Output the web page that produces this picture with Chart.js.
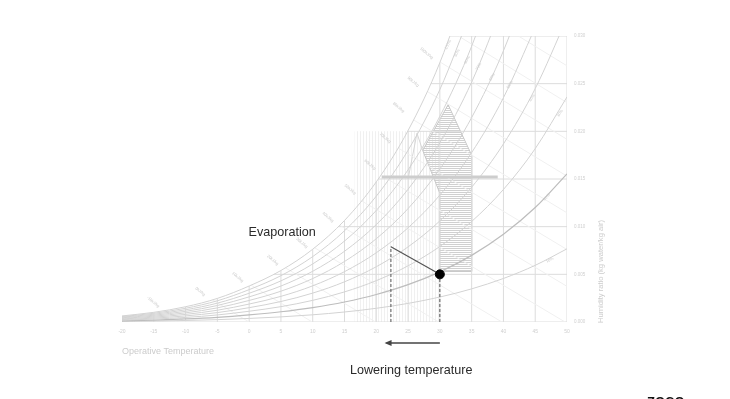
<!DOCTYPE html>
<html lang="en">
<head>
<meta charset="UTF-8">
<title>Psychrometric chart - evaporative cooling</title>
<script src="https://cdn.jsdelivr.net/npm/chart.js"></script>
<style>
  html, body { margin: 0; padding: 0; background: #fff; }
  #wrap { width: 730px; height: 399px; position: relative; }
</style>
</head>
<body>
<div id="wrap"><canvas id="psychro" width="730" height="399"></canvas></div>
<script>
// dry bulb temperatures (°C) where the RH curves were read
const temps = [-20, -15, -10, -5, 0, 5, 10, 15, 20, 25, 30, 35, 40, 45, 50];

// humidity ratio (kg water / kg air) along each relative humidity curve
const rh100 = [0.000636, 0.001016, 0.00160, 0.002475, 0.003775, 0.005403, 0.007632, 0.01065, 0.014699, 0.020082, 0.027209, 0.036583];
const rh90 = [0.000572, 0.000915, 0.00144, 0.002226, 0.003395, 0.004859, 0.00686, 0.009569, 0.013198, 0.018017, 0.024382, 0.032733];
const rh80 = [0.000509, 0.000813, 0.001279, 0.001978, 0.003016, 0.004315, 0.006091, 0.008491, 0.011704, 0.015963, 0.021578, 0.028928, 0.038509];
const rh70 = [0.000445, 0.000711, 0.001119, 0.00173, 0.002637, 0.003772, 0.005323, 0.007417, 0.010217, 0.013923, 0.0188, 0.025166, 0.033436];
const rh60 = [0.000381, 0.000609, 0.000959, 0.001482, 0.002259, 0.003231, 0.004557, 0.006347, 0.008737, 0.011896, 0.016045, 0.021446, 0.028443, 0.037461];
const rh50 = [0.000318, 0.000508, 0.000799, 0.001235, 0.001882, 0.00269, 0.003793, 0.00528, 0.007263, 0.009882, 0.013314, 0.01777, 0.023523, 0.030907];
const rh40 = [0.000254, 0.000406, 0.000639, 0.000987, 0.001504, 0.00215, 0.003031, 0.004217, 0.005797, 0.00788, 0.010605, 0.014135, 0.018677, 0.024482, 0.031885];
const rh30 = [0.000191, 0.000305, 0.000479, 0.00074, 0.001128, 0.001611, 0.00227, 0.003157, 0.004338, 0.005892, 0.00792, 0.010541, 0.013903, 0.018182, 0.023611];
const rh20 = [0.000127, 0.000203, 0.000319, 0.000493, 0.000751, 0.001073, 0.001512, 0.002101, 0.002885, 0.003915, 0.005258, 0.006988, 0.0092, 0.012005, 0.015545];
const rh10 = [0.000064, 0.000101, 0.00016, 0.000247, 0.000375, 0.000536, 0.000755, 0.001049, 0.001439, 0.001952, 0.002618, 0.003475, 0.004566, 0.005945, 0.007676];
const rhCurves = [rh10, rh20, rh30, rh40, rh50, rh60, rh70, rh80, rh90, rh100];
const rhNames = ['10%', '20%', '30%', '40%', '50%', '60%', '70%', '80%', '90%', '100%'];

// where the RH names sit on the chart (T, W)
const rhLabelT = [47.3, 46.8, 48.9, 44.5, 41.0, 38.2, 36.1, 34.3, 32.7, 31.3];
const rhLabelW = [0.0065, 0.0131, 0.0219, 0.0235, 0.0249, 0.0257, 0.0268, 0.0275, 0.0282, 0.0291];

// 5 degree grid: top of each vertical line (saturation or chart top)
const gridTemps = [-20, -15, -10, -5, 0, 5, 10, 15, 20, 25, 30, 35, 40, 45, 50];
const gridTopW = [0.000636, 0.001016, 0.0016, 0.002475, 0.003775, 0.005403, 0.007632, 0.01065, 0.014699, 0.020082, 0.027209, 0.030, 0.030, 0.030, 0.030];
// horizontal grid: humidity ratio and the saturation temperature where it starts
const gridW = [0.005, 0.010, 0.015, 0.020, 0.025, 0.030];
const gridStartT = [3.9, 14.0, 20.3, 24.9, 28.6, 31.6];

// enthalpy lines (kJ/kg): start on saturation, end on W=0 or at 50 °C
const enthalpy = [-10, 0, 10, 20, 30, 40, 50, 60, 70, 80, 90, 100, 110, 120];
const hStartT = [-12.97, -5.75, 0.32, 5.7, 10.3, 14.26, 17.7, 20.74, 23.44, 25.86, 28.05, 30.05, 32.93, 42.35];
const hStartW = [0.00122, 0.00232, 0.00386, 0.00568, 0.00779, 0.01015, 0.0127, 0.0154, 0.01825, 0.0212, 0.02417, 0.02726, 0.030, 0.030];
const hEndT = [-9.94, 0, 9.94, 19.88, 29.82, 39.76, 49.7, 50, 50, 50, 50, 50, 50, 50];
const hEndW = [0, 0, 0, 0, 0, 0, 0, 0.00374, 0.0076, 0.01145, 0.0153, 0.01916, 0.02301, 0.02687];
const hLabelT = [-15.1, -7.7, -1.8, 3.7, 8.3, 12.4, 15.9, 19.0, 21.4, 23.5, 25.8, 27.9];
const hLabelW = [0.0021, 0.0032, 0.0047, 0.0065, 0.0083, 0.0110, 0.0139, 0.0165, 0.0193, 0.0225, 0.0252, 0.0282];

// comfort zones
const summerZoneT = [31.3, 35.0, 35.0, 30.0, 30.0, 27.3, 31.3];
const summerZoneW = [0.0228, 0.0175, 0.0053, 0.0053, 0.0135, 0.0180, 0.0228];
const winterZoneT = [16.6, 16.6, 30.0, 30.0, 16.6];
const winterZoneW = [0, 0.0200, 0.0200, 0, 0];
const peakT = [25.0, 26.4, 27.3];
const peakW = [0.0150, 0.0198, 0.0180];
const barT = [20.9, 39.1];
const barW = [0.0152, 0.0152];

// evaporative cooling process
const startPoint = { t: 30, w: 0.005 };
const endPoint = { t: 22.3, w: 0.0079 };
const arrowFromT = 30;
const arrowToT = 21.3;

const pts = (xs, ys) => xs.map((x, i) => ({ x: x, y: ys[i] }));

const ctx = document.getElementById('psychro').getContext('2d');

function hatch(size, color, vertical) {
    const c = document.createElement('canvas');
    c.width = vertical ? size : 4;
    c.height = vertical ? 4 : size;
    const g = c.getContext('2d');
    g.fillStyle = color;
    if (vertical) g.fillRect(0, 0, 1, 4); else g.fillRect(0, 0, 4, 1);
    return ctx.createPattern(c, 'repeat');
}

const datasets = [];
function add(ds) { datasets.push(Object.assign({ showLine: true, pointRadius: 0, fill: false, borderWidth: 1 }, ds)); }

// background hatching
add({ data: pts(winterZoneT, winterZoneW), fill: 'shape', backgroundColor: hatch(3, '#f0f0f0', true), borderWidth: 0, borderColor: 'rgba(0,0,0,0)' });
add({ data: pts(summerZoneT, summerZoneW), fill: 'shape', backgroundColor: hatch(2, '#d0d0d0', false), borderColor: '#c8c8c8' });
add({ data: pts(peakT, peakW), borderColor: '#d6d6d6' });

// grid
gridTemps.forEach((t, i) => add({ data: [{ x: t, y: 0 }, { x: t, y: gridTopW[i] }], borderColor: '#dcdcdc' }));
gridW.forEach((w, i) => add({ data: [{ x: gridStartT[i], y: w }, { x: 50, y: w }], borderColor: '#dcdcdc' }));
add({ data: [{ x: -20, y: 0 }, { x: 50, y: 0 }], borderColor: '#dcdcdc' });

// enthalpy lines
enthalpy.forEach((h, i) => add({ data: [{ x: hStartT[i], y: hStartW[i] }, { x: hEndT[i], y: hEndW[i] }], borderColor: '#f0f0f0' }));

// relative humidity curves
rhCurves.forEach((c, i) => add({
    data: pts(temps.slice(0, c.length), c),
    borderColor: i === 1 ? '#bdbdbd' : '#d3d3d3',
    borderWidth: i === 1 ? 1.2 : 1,
    cubicInterpolationMode: 'monotone'
}));

add({ data: pts(barT, barW), borderColor: '#cdcdcd', borderWidth: 3 });

// process
add({ data: [{ x: endPoint.t, y: 0 }, { x: endPoint.t, y: endPoint.w }], borderColor: '#555', borderDash: [3, 2] });
add({ data: [{ x: startPoint.t, y: 0 }, { x: startPoint.t, y: startPoint.w }], borderColor: '#555', borderDash: [3, 2] });
add({ data: [{ x: startPoint.t, y: startPoint.w }, { x: endPoint.t, y: endPoint.w }], borderColor: '#555', borderWidth: 1.2 });
add({ data: [{ x: startPoint.t, y: startPoint.w }], showLine: false, pointRadius: 4.5, pointBackgroundColor: '#000', pointBorderColor: '#000' });

datasets.forEach((d, i) => { d.order = datasets.length - i; });

const labelsPlugin = {
    id: 'labels',
    afterDatasetsDraw(chart) {
        const c = chart.ctx;
        const xs = chart.scales.x, ys = chart.scales.y;
        const area = chart.chartArea;
        c.save();

        // enthalpy names
        c.fillStyle = '#c9c9c9';
        c.font = '4px "Liberation Sans", Arial, sans-serif';
        c.textAlign = 'center';
        c.textBaseline = 'middle';
        hLabelT.forEach((t, i) => {
            c.save();
            c.translate(xs.getPixelForValue(t), ys.getPixelForValue(hLabelW[i]));
            c.rotate(40 * Math.PI / 180);
            c.fillText(enthalpy[i] + 'kJ/kg', 0, 0);
            c.restore();
        });

        // RH names
        const rot = [-27, -47, -58, -60, -60, -60, -62, -62, -63, -63];
        rhLabelT.forEach((t, i) => {
            c.save();
            c.translate(xs.getPixelForValue(t), ys.getPixelForValue(rhLabelW[i]));
            c.rotate(rot[i] * Math.PI / 180);
            c.fillText(rhNames[i], 0, 0);
            c.restore();
        });

        // y axis title, reading upwards from the bottom
        c.save();
        c.translate(area.right + 34, area.bottom + 1);
        c.rotate(-Math.PI / 2);
        c.textAlign = 'left';
        c.fillStyle = '#cccccc';
        c.font = '7.6px "Liberation Sans", Arial, sans-serif';
        c.fillText('Humidity ratio (kg water/kg air)', 0, 0);
        c.restore();

        // annotations
        c.fillStyle = '#2a2a2a';
        c.font = '12.6px "Liberation Sans", Arial, sans-serif';
        c.textAlign = 'center';
        c.fillText('Evaporation', xs.getPixelForValue(5.2), ys.getPixelForValue(0.0094));
        c.fillText('Lowering temperature', (xs.getPixelForValue(arrowFromT) + xs.getPixelForValue(arrowToT)) / 2 - 1, area.bottom + 49);

        // arrow under the axis
        const ay = area.bottom + 21;
        const x0 = xs.getPixelForValue(arrowFromT), x1 = xs.getPixelForValue(arrowToT);
        c.strokeStyle = '#444';
        c.lineWidth = 1.3;
        c.beginPath();
        c.moveTo(x0, ay);
        c.lineTo(x1 + 2, ay);
        c.stroke();
        c.fillStyle = '#444';
        c.beginPath();
        c.moveTo(x1, ay);
        c.lineTo(x1 + 7, ay - 3);
        c.lineTo(x1 + 7, ay + 3);
        c.closePath();
        c.fill();

        // logo, cut by the bottom edge
        c.fillStyle = '#111';
        c.font = 'bold 13px "Liberation Sans", Arial, sans-serif';
        c.textAlign = 'left';
        c.textBaseline = 'alphabetic';
        c.fillText('ZOCO', 647, 406);
        c.restore();
    }
};

new Chart(ctx, {
    type: 'scatter',
    data: { datasets: datasets },
    options: {
        responsive: false,
        animation: false,
        layout: { padding: { left: 122, top: 36, right: 133, bottom: 37 } },
        plugins: { legend: { display: false }, tooltip: { enabled: false } },
        scales: {
            x: {
                type: 'linear',
                min: -20,
                max: 50,
                afterFit: s => { s.height = 40; },
                grid: { display: false, drawTicks: false },
                border: { display: false },
                ticks: { stepSize: 5, padding: 7, color: '#cfcfcf', font: { size: 5 } },
                title: {
                    display: true,
                    text: 'Operative Temperature',
                    align: 'start',
                    color: '#cccccc',
                    font: { size: 9, family: '"Liberation Sans", Arial, sans-serif' },
                    padding: { top: 0, bottom: 5 }
                }
            },
            y: {
                type: 'linear',
                position: 'right',
                min: 0,
                max: 0.03,
                afterFit: s => { s.width = 30; },
                grid: { display: false, drawTicks: false },
                border: { display: false },
                ticks: { stepSize: 0.005, padding: 7, color: '#cfcfcf', font: { size: 4.5 }, callback: v => v.toFixed(3) }
            }
        }
    },
    plugins: [labelsPlugin]
});
</script>
</body>
</html>
